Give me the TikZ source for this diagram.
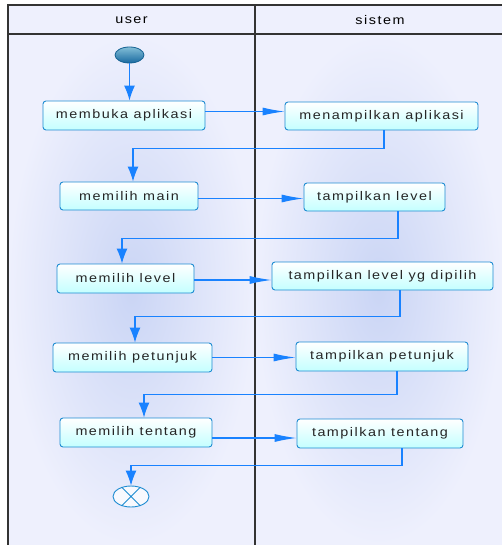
\documentclass[tikz,border=0pt]{standalone}
\usepackage{fontspec}
\setmainfont{Liberation Sans}[FakeStretch=1.15, LetterSpace=12]
\usepackage{tikz}
\usetikzlibrary{arrows.meta, shapes.geometric}

\definecolor{lanebg}{RGB}{238,240,253}
\definecolor{laneglow}{RGB}{202,213,245}
\definecolor{boxline}{RGB}{30,140,210}
\definecolor{boxfill}{RGB}{196,255,255}
\definecolor{flowblue}{RGB}{25,130,255}

\tikzset{
  activity/.style={draw=boxline, line width=0.9pt, rounded corners=3pt,
    top color=white, bottom color=boxfill, inner sep=0pt, text=black!85,
    font=\fontsize{12.5}{14}\selectfont},
  lanetitle/.style={font=\fontsize{12.5}{14}\selectfont},
  flow/.style={draw=flowblue, line width=1.1pt},
  hflow/.style={flow, -{Latex[length=22pt,width=8pt]}},
  vflow/.style={flow, -{Latex[length=15pt,width=11pt]}},
}

\begin{document}
\begin{tikzpicture}[x=1pt, y=-1pt]
  \useasboundingbox (0,0) rectangle (502,545);
  % Swimlanes
  \fill[lanebg] (8,5) rectangle (502,545);
  \shade[inner color=laneglow, outer color=lanebg] (8,34) rectangle (255,545);
  \shade[inner color=laneglow, outer color=lanebg] (255,34) rectangle (502,545);
  \draw[line width=1.4pt, black!80] (502,5) -- (8,5) -- (8,545);
  \draw[line width=1.4pt, black!80] (8,34) -- (502,34);
  \draw[line width=1.4pt, black!80] (255,5) -- (255,545);
  \node[lanetitle] (laneuser) at (131.5,20) {user};
  \node[lanetitle] (lanesistem) at (380,20) {sistem};

  % Start and end
  \node[ellipse, draw=boxline!70!black, line width=0.8pt, top color={rgb,255:red,130;green,190;blue,215},
        bottom color={rgb,255:red,25;green,105;blue,160}, minimum width=29pt, minimum height=16pt, inner sep=0pt] (start) at (129.5,55) {};
  \node[ellipse, draw=boxline, line width=0.9pt, fill=white!60!lanebg, minimum width=36pt, minimum height=21pt, inner sep=0pt] (finish) at (131,496.5) {};
  \draw[boxline, line width=0.8pt] (finish.45) -- (finish.225) (finish.135) -- (finish.315);

  % User activities
  \node[activity, minimum width=162pt, minimum height=29pt] (buka) at (124,115.5) {membuka aplikasi};
  \node[activity, minimum width=138pt, minimum height=28pt] (main) at (129,196) {memilih main};
  \node[activity, minimum width=137pt, minimum height=29pt] (level) at (125.5,278.5) {memilih level};
  \node[activity, minimum width=159pt, minimum height=29pt] (petunjuk) at (132.5,357.5) {memilih petunjuk};
  \node[activity, minimum width=152pt, minimum height=29pt] (tentang) at (136,432.5) {memilih tentang};

  % Sistem activities
  \node[activity, minimum width=193pt, minimum height=28pt] (tampilapp) at (381.5,116) {menampilkan aplikasi};
  \node[activity, minimum width=141pt, minimum height=28pt] (tampillevel) at (374.5,197) {tampilkan level};
  \node[activity, minimum width=221pt, minimum height=28pt] (tampilpilih) at (382.5,276) {tampilkan level yg dipilih};
  \node[activity, minimum width=172pt, minimum height=29pt] (tampilpetunjuk) at (382,356.5) {tampilkan petunjuk};
  \node[activity, minimum width=166pt, minimum height=29pt] (tampiltentang) at (380,433.5) {tampilkan tentang};

  % Flows
  \draw[vflow] (start) -- (start |- buka.north);
  \draw[hflow] ([yshift=4pt]buka.east) -- ([yshift=4pt]buka.east -| tampilapp.west);
  \draw[vflow] ([xshift=2.5pt]tampilapp.south) -- ++(0,18) -| ([xshift=4pt]main.north);
  \draw[hflow] ([yshift=-2.5pt]main.east) -- ([yshift=-2.5pt]main.east -| tampillevel.west);
  \draw[vflow] ([xshift=23.5pt]tampillevel.south) -- ++(0,27) -| ([xshift=-3.5pt]level.north);
  \draw[hflow] ([yshift=-1.5pt]level.east) -- ([yshift=-1.5pt]level.east -| tampilpilih.west);
  \draw[vflow] ([xshift=17.5pt]tampilpilih.south) -- ++(0,26) -| ([xshift=2.5pt]petunjuk.north);
  \draw[hflow] (petunjuk.east) -- (petunjuk.east -| tampilpetunjuk.west);
  \draw[vflow] ([xshift=15pt]tampilpetunjuk.south) -- ++(0,23) -| ([xshift=8pt]tentang.north);
  \draw[hflow] ([yshift=-5.5pt]tentang.east) -- ([yshift=-5.5pt]tentang.east -| tampiltentang.west);
  \draw[vflow] ([xshift=22pt]tampiltentang.south) -- ++(0,17) -| (finish.north);
\end{tikzpicture}
\end{document}
